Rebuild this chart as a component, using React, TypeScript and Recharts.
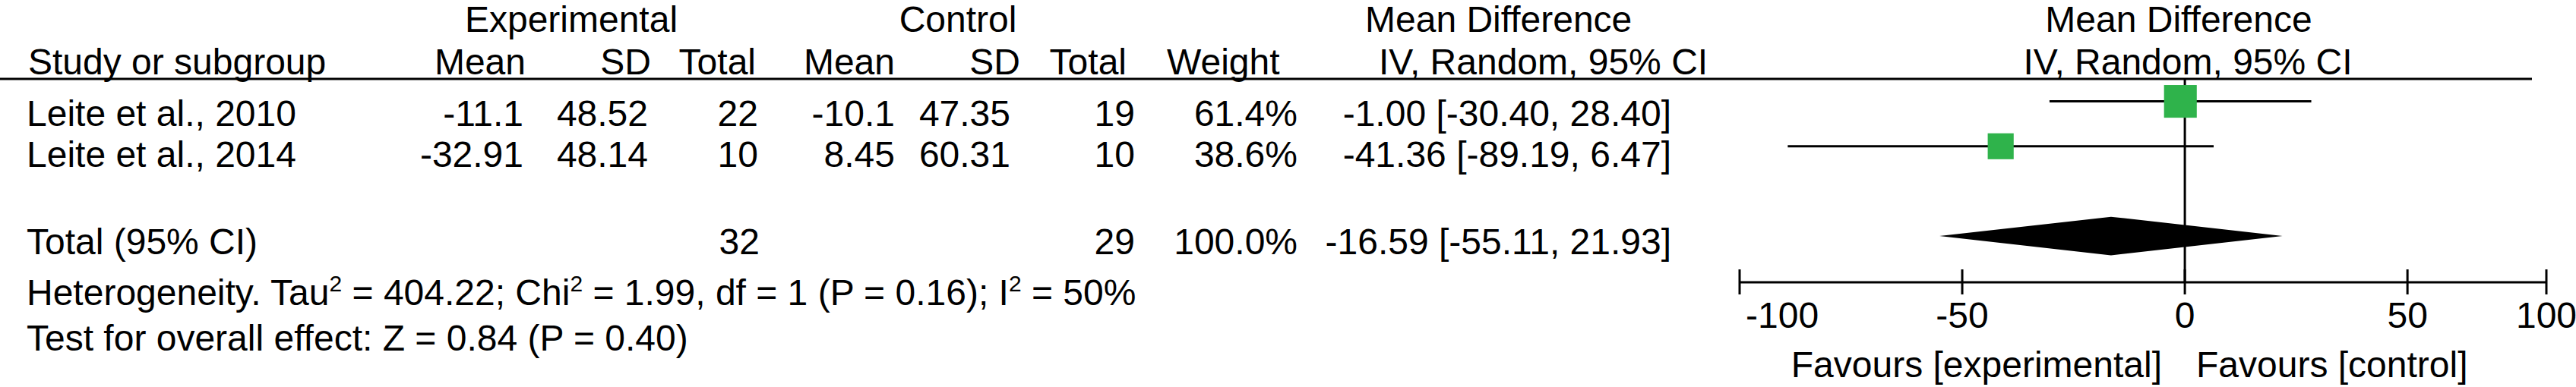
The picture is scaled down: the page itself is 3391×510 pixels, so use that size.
import { Area, ComposedChart, Line, ReferenceLine, Scatter, XAxis, YAxis } from "recharts"

// study rows
const studies = ["Leite et al., 2010", "Leite et al., 2014"]
const expMean = [-11.1, -32.91]
const expSD = [48.52, 48.14]
const expTotal = [22, 10]
const ctlMean = [-10.1, 8.45]
const ctlSD = [47.35, 60.31]
const ctlTotal = [19, 10]
const weight = [61.4, 38.6]
const md = [-1.0, -41.36]
const ciLow = [-30.4, -89.19]
const ciHigh = [28.4, 6.47]

// pooled result
const pooledExpTotal = 32
const pooledCtlTotal = 29
const pooledWeight = 100.0
const pooledMd = -16.59
const pooledLow = -55.11
const pooledHigh = 21.93

// heterogeneity / overall effect
const tau2 = "404.22"
const chi2 = "1.99"
const df = 1
const pHet = "0.16"
const i2 = 50
const z = "0.84"
const pZ = "0.40"

// the source figure's right end tick sits short of +100 on the scale, drawn as it is
const tickValues = [-100, -50, 0, 50, 81.2]
const tickLabels = ["-100", "-50", "0", "50", "100"]

const studyRows = [0, 1]
const pooledRow = 3

const W = 3391
const H = 510
const GREEN = "#2fb34b"
const DIAMOND_HALF = 0.43
const FONT = '"Liberation Sans", Arial, Helvetica, sans-serif'

const ciData = studies.map((_, i) => [
  { x: ciLow[i], y: studyRows[i] },
  { x: ciHigh[i], y: studyRows[i] },
])

const squares = studies.map((name, i) => ({ name, x: md[i], y: studyRows[i], weight: weight[i] }))

const diamond = [
  { x: pooledLow, band: [pooledRow, pooledRow] },
  { x: pooledMd, band: [pooledRow - DIAMOND_HALF, pooledRow + DIAMOND_HALF] },
  { x: pooledHigh, band: [pooledRow, pooledRow] },
]

const fmtCI = (m: number, lo: number, hi: number) => `${m.toFixed(2)} [${lo.toFixed(2)}, ${hi.toFixed(2)}]`

const Square = (props: any) => {
  const { cx, cy, payload } = props
  const s = 5.5 * Math.sqrt(payload.weight)
  return <rect x={cx - s / 2} y={cy - s / 2} width={s} height={s} fill={GREEN} />
}

const ForestTick = (props: any) => {
  const { x, y, index } = props
  const first = index === 0
  return (
    <g>
      <line x1={x} x2={x} y1={y - 17} y2={y + 16} stroke="#000" strokeWidth={3} />
      <text
        x={first ? x + 8 : x}
        y={y + 60}
        textAnchor={first ? "start" : "middle"}
        fontFamily={FONT}
        fontSize={48}
        fill="#000"
      >
        {tickLabels[index]}
      </text>
    </g>
  )
}

const T = ({ x, y, a = "start", children }: { x: number; y: number; a?: string; children: any }) => (
  <text x={x} y={y} textAnchor={a} fontFamily={FONT} fontSize={48} fill="#000">
    {children}
  </text>
)

// baselines of the table rows
const rowY = [166, 220]
const totalY = 335
const SUP = 18

export default function App() {
  return (
    <div style={{ position: "relative", width: W, height: H, background: "#fff" }}>
      <style>{"body{margin:0}"}</style>
      <div style={{ position: "absolute", left: 0, top: 0 }}>
        <ComposedChart width={W} height={H} margin={{ top: 104, right: 39, bottom: 108, left: 2290 }}>
          <XAxis
            type="number"
            dataKey="x"
            domain={[-100, 81.2]}
            ticks={tickValues}
            interval={0}
            tickSize={0}
            tickMargin={0}
            height={30}
            axisLine={{ stroke: "#000", strokeWidth: 3 }}
            tickLine={false}
            tick={<ForestTick />}
          />
          <YAxis type="number" dataKey="y" domain={[-0.5, 4.03]} reversed hide width={0} />
          <ReferenceLine x={0} stroke="#000" strokeWidth={3} />
          {ciData.map((d, i) => (
            <Line
              key={i}
              data={d}
              dataKey="y"
              type="linear"
              stroke="#000"
              strokeWidth={3}
              dot={false}
              activeDot={false}
              isAnimationActive={false}
            />
          ))}
          <Scatter data={squares} dataKey="y" shape={Square} isAnimationActive={false} />
          <Area
            data={diamond}
            dataKey="band"
            type="linear"
            stroke="none"
            fill="#000"
            fillOpacity={1}
            isAnimationActive={false}
          />
        </ComposedChart>
      </div>
      <svg width={W} height={H} style={{ position: "absolute", left: 0, top: 0, pointerEvents: "none" }}>
        {/* header */}
        <T x={752} y={42} a="middle">Experimental</T>
        <T x={1261} y={42} a="middle">Control</T>
        <T x={1797} y={42}>Mean Difference</T>
        <T x={2868} y={42} a="middle">Mean Difference</T>

        <T x={37} y={98}>Study or subgroup</T>
        <T x={692} y={98} a="end">Mean</T>
        <T x={857} y={98} a="end">SD</T>
        <T x={995} y={98} a="end">Total</T>
        <T x={1178} y={98} a="end">Mean</T>
        <T x={1343} y={98} a="end">SD</T>
        <T x={1483} y={98} a="end">Total</T>
        <T x={1536} y={98}>Weight</T>
        <T x={1815} y={98}>IV, Random, 95% CI</T>
        <T x={2880} y={98} a="middle">IV, Random, 95% CI</T>
        <line x1={0} x2={3333} y1={104} y2={104} stroke="#000" strokeWidth={3} />

        {/* studies */}
        {studies.map((s, i) => (
          <g key={s}>
            <T x={35} y={rowY[i]}>{s}</T>
            <T x={689} y={rowY[i]} a="end">{String(expMean[i])}</T>
            <T x={853} y={rowY[i]} a="end">{String(expSD[i])}</T>
            <T x={998} y={rowY[i]} a="end">{String(expTotal[i])}</T>
            <T x={1178} y={rowY[i]} a="end">{String(ctlMean[i])}</T>
            <T x={1330} y={rowY[i]} a="end">{String(ctlSD[i])}</T>
            <T x={1494} y={rowY[i]} a="end">{String(ctlTotal[i])}</T>
            <T x={1708} y={rowY[i]} a="end">{`${weight[i].toFixed(1)}%`}</T>
            <T x={2200} y={rowY[i]} a="end">{fmtCI(md[i], ciLow[i], ciHigh[i])}</T>
          </g>
        ))}

        {/* pooled */}
        <T x={35} y={totalY}>Total (95% CI)</T>
        <T x={1000} y={totalY} a="end">{String(pooledExpTotal)}</T>
        <T x={1494} y={totalY} a="end">{String(pooledCtlTotal)}</T>
        <T x={1708} y={totalY} a="end">{`${pooledWeight.toFixed(1)}%`}</T>
        <T x={2200} y={totalY} a="end">{fmtCI(pooledMd, pooledLow, pooledHigh)}</T>

        <T x={35} y={402}>
          <tspan>Heterogeneity. Tau</tspan>
          <tspan fontSize={30} dy={-SUP}>2</tspan>
          <tspan dy={SUP}>{` = ${tau2}; Chi`}</tspan>
          <tspan fontSize={30} dy={-SUP}>2</tspan>
          <tspan dy={SUP}>{` = ${chi2}, df = ${df} (P = ${pHet}); I`}</tspan>
          <tspan fontSize={30} dy={-SUP}>2</tspan>
          <tspan dy={SUP}>{` = ${i2}%`}</tspan>
        </T>
        <T x={35} y={462}>{`Test for overall effect: Z = ${z} (P = ${pZ})`}</T>

        <T x={2846} y={497} a="end">Favours [experimental]</T>
        <T x={2891} y={497}>Favours [control]</T>
      </svg>
    </div>
  )
}
